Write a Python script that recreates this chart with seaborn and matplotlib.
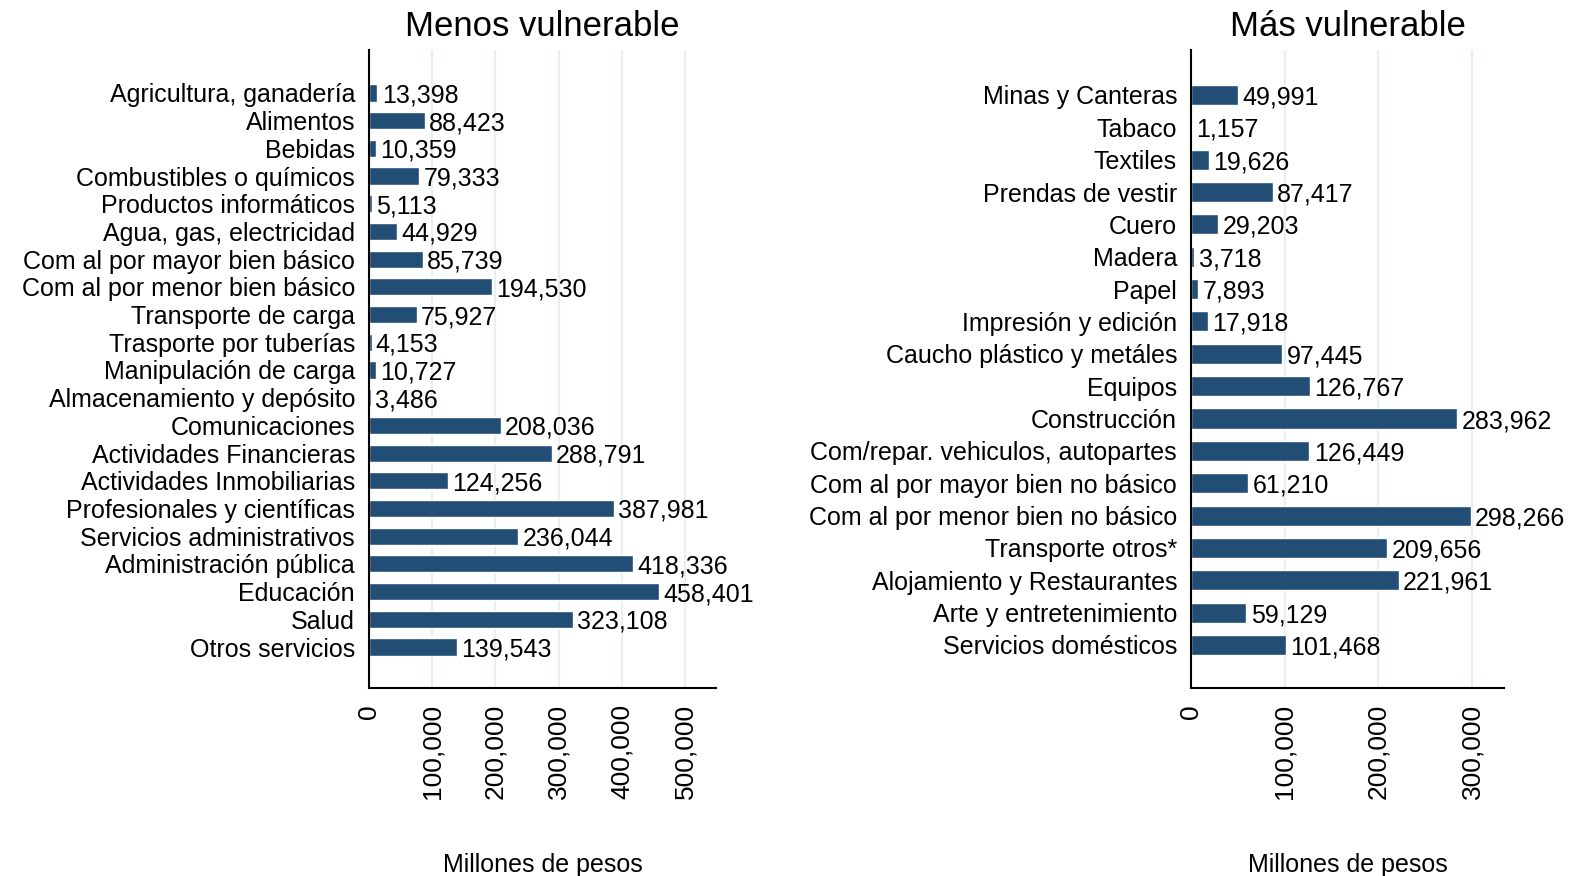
"""Valor agregado por sector: menos vs. más vulnerable."""

import matplotlib.pyplot as plt
import pandas as pd
import seaborn as sns
from matplotlib.ticker import FuncFormatter

BAR_COLOR = "#224D75"
GRID_COLOR = "#E6EFF2"

menos_sectores = [
    "Agricultura, ganadería", "Alimentos", "Bebidas", "Combustibles o químicos",
    "Productos informáticos", "Agua, gas, electricidad", "Com al por mayor bien básico",
    "Com al por menor bien básico", "Transporte de carga", "Trasporte por tuberías",
    "Manipulación de carga", "Almacenamiento y depósito", "Comunicaciones",
    "Actividades Financieras", "Actividades Inmobiliarias", "Profesionales y científicas",
    "Servicios administrativos", "Administración pública", "Educación", "Salud",
    "Otros servicios",
]
menos_valores = [
    13398, 88423, 10359, 79333, 5113, 44929, 85739, 194530, 75927, 4153, 10727,
    3486, 208036, 288791, 124256, 387981, 236044, 418336, 458401, 323108, 139543,
]

mas_sectores = [
    "Minas y Canteras", "Tabaco", "Textiles", "Prendas de vestir", "Cuero", "Madera",
    "Papel", "Impresión y edición", "Caucho plástico y metáles", "Equipos",
    "Construcción", "Com/repar. vehiculos, autopartes", "Com al por mayor bien no básico",
    "Com al por menor bien no básico", "Transporte otros*", "Alojamiento y Restaurantes",
    "Arte y entretenimiento", "Servicios domésticos",
]
mas_valores = [
    49991, 1157, 19626, 87417, 29203, 3718, 7893, 17918, 97445, 126767, 283962,
    126449, 61210, 298266, 209656, 221961, 59129, 101468,
]

x_ticks_menos = [0, 100000, 200000, 300000, 400000, 500000]
x_ticks_mas = [0, 100000, 200000, 300000]


def draw_panel(ax, sectores, valores, title, xmax, ticks, pad_top, pad_bottom):
    df = pd.DataFrame({"sector": sectores, "valor": valores})
    sns.barplot(data=df, x="valor", y="sector", orient="h", color=BAR_COLOR,
                saturation=1, width=0.62, ax=ax)
    for bars in ax.containers:
        texts = ax.bar_label(bars, labels=[f"{v:,.0f}" for v in valores],
                             padding=3, fontsize=18, color="black")
        for t in texts:
            t.set_va("center_baseline")
    n = len(sectores)
    ax.set_ylim(n - 1 + pad_bottom, -pad_top)
    ax.set_xlim(0, xmax)
    ax.set_xticks(ticks)
    ax.xaxis.set_major_formatter(FuncFormatter(lambda v, _: f"{v:,.0f}"))
    ax.tick_params(axis="x", labelrotation=90, labelsize=19, length=8, width=1.3,
                   direction="out", color="black", labelcolor="black")
    ax.tick_params(axis="y", labelsize=18, length=0, pad=10, labelcolor="black")
    ax.grid(axis="x", color=GRID_COLOR, linewidth=1.6)
    ax.grid(axis="y", visible=False)
    ax.set_axisbelow(True)
    ax.set_ylabel("")
    ax.set_xlabel("Millones de pesos", fontsize=18, labelpad=39, color="black")
    ax.set_title(title, fontsize=25, pad=10, color="black")
    for side in ("top", "right"):
        ax.spines[side].set_visible(False)
    for side in ("left", "bottom"):
        ax.spines[side].set_color("black")
        ax.spines[side].set_linewidth(1.5)


def main() -> None:
    sns.set_theme(style="white")
    plt.rcParams["font.family"] = ["Liberation Sans", "DejaVu Sans"]

    fig = plt.figure(figsize=(15.81, 8.76), dpi=100)
    ax_left = fig.add_axes([0.2334, 0.2146, 0.2195, 0.7283])
    ax_right = fig.add_axes([0.7533, 0.2146, 0.198, 0.7283])

    draw_panel(ax_left, menos_sectores, menos_valores, "Menos vulnerable",
               549000, x_ticks_menos, 1.55, 1.48)
    draw_panel(ax_right, mas_sectores, mas_valores, "Más vulnerable",
               334000, x_ticks_mas, 1.39, 1.33)

    fig.savefig("out.png", dpi=100)
    plt.close(fig)


if __name__ == "__main__":
    main()
